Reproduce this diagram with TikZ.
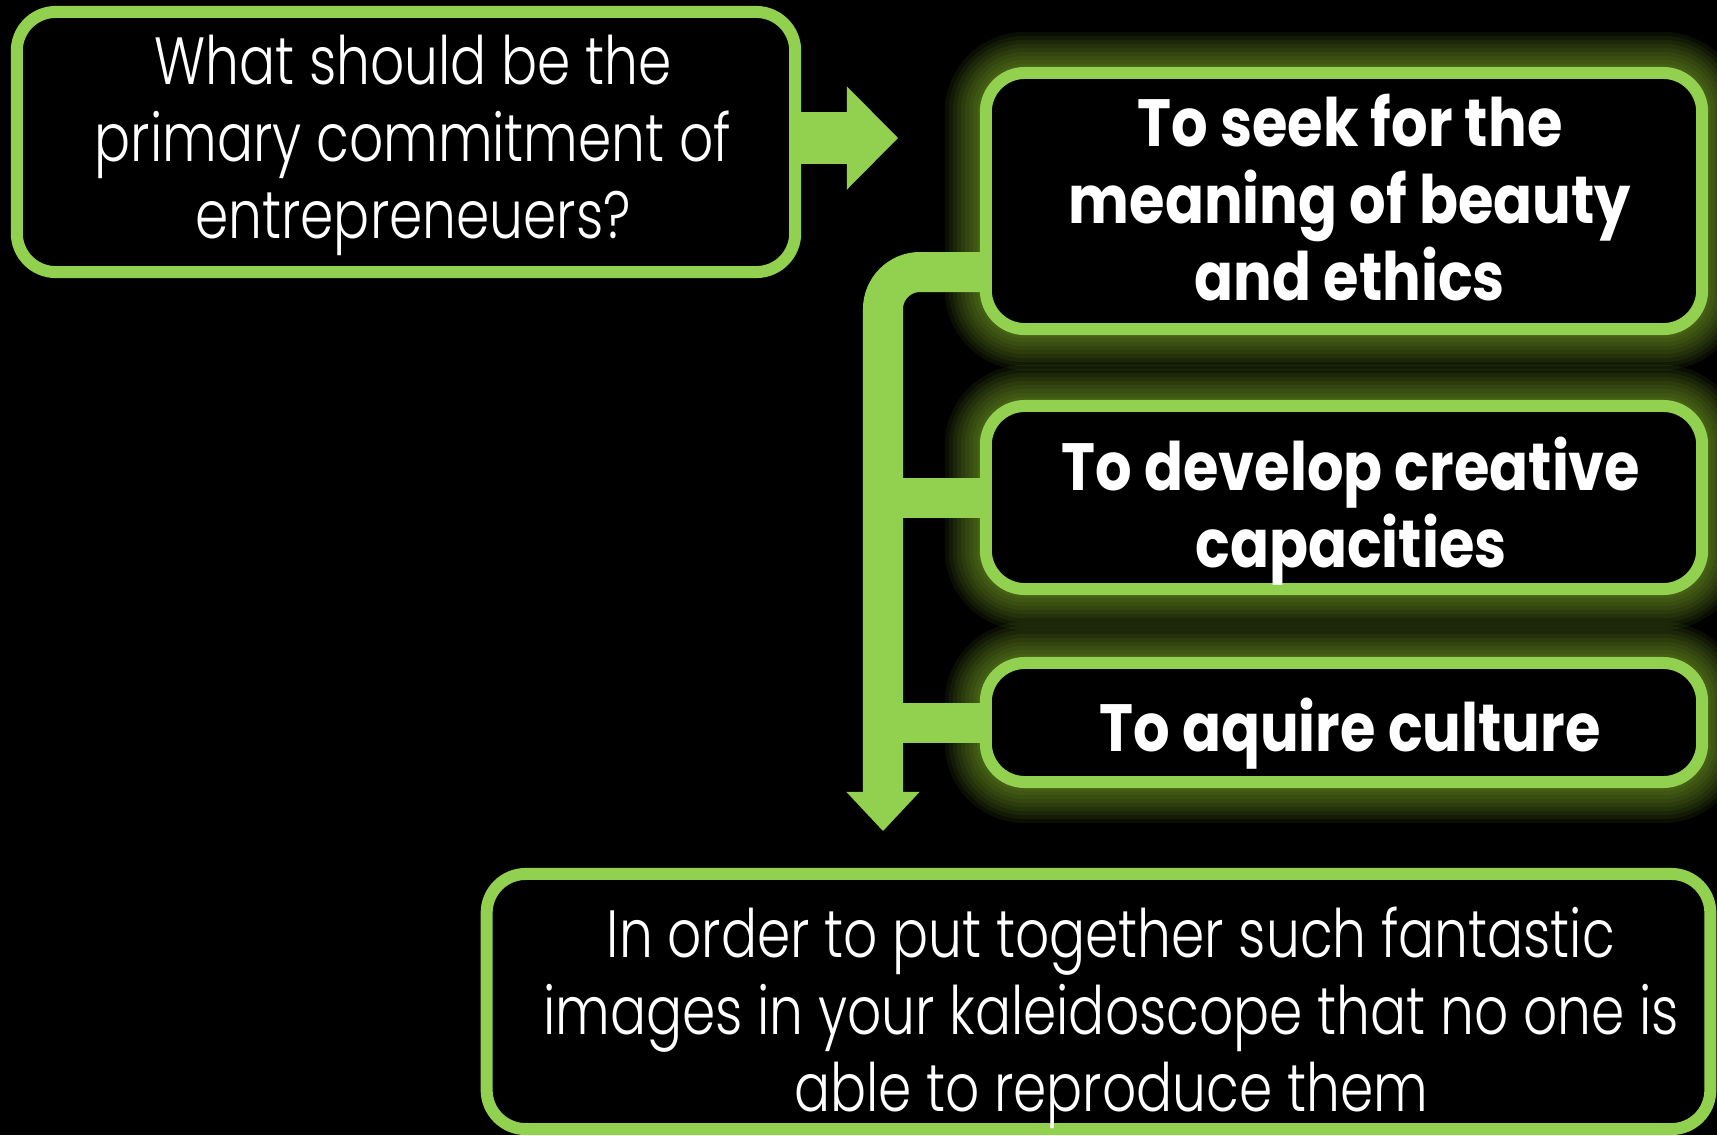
\documentclass[tikz,border=0pt]{standalone}
\usepackage{fontspec}
\usetikzlibrary{arrows.meta}
\newfontfamily\lightface{Poppins Light}[FakeStretch=0.8]
\newfontfamily\heavyface{Poppins}[FakeStretch=0.86]
\definecolor{leaf}{RGB}{146,208,80}
\definecolor{halo}{RGB}{150,205,50}
\pgfdeclarelayer{bg}
\pgfdeclarelayer{glow}
\pgfsetlayers{bg,glow,main}
\tikzset{
  panel/.style={rectangle, draw=leaf, line width=0.12cm, fill=black,
    rounded corners=0.39cm, inner sep=0pt, outer sep=0pt},
  plain/.style={text=white, align=center, inner sep=0pt,
    font=\lightface\fontsize{19}{21.9}\selectfont},
  strong/.style={text=white, align=center, inner sep=0pt,
    font=\heavyface\bfseries\fontsize{19}{21.9}\selectfont},
  link/.style={draw=leaf, line width=0.40cm, line cap=butt, line join=miter},
}
\begin{document}
\begin{tikzpicture}[x=0.01cm, y=-0.01cm]
\useasboundingbox (0,0) rectangle (1717,1135);
\begin{pgfonlayer}{bg}
  \fill[black] (0,0) rectangle (1717,1135);
\end{pgfonlayer}

% boxes
\node[panel, minimum width=7.78cm, minimum height=2.60cm] (q) at (406,142) {};
\node[panel, minimum width=7.16cm, minimum height=2.56cm] (b1) at (1344,201) {};
\node[panel, minimum width=7.16cm, minimum height=1.83cm] (b2) at (1344,497.5) {};
\node[panel, minimum width=7.16cm, minimum height=1.19cm] (b3) at (1344,722.5) {};
\node[panel, minimum width=12.23cm, minimum height=2.55cm] (res) at (1098.5,1001.5) {};

% texts
\node[plain] (qt) at (413,145) {What should be the\\primary commitment of\\entrepreneuers?};
\node[strong] (b1t) at (1350,197.5) {To seek for the\\meaning of beauty\\and ethics};
\node[strong] (b2t) at (1351,511) {To develop creative\\capacities};
\node[strong] (b3t) at (1350,733.5) {To aquire culture};
\node[plain] (rest) at (1111,1018) {In order to put together such fantastic\\images in your kaleidoscope that no one is\\able to reproduce them};

% soft halo round the three answers
\begin{pgfonlayer}{glow}
  \foreach \b in {b1,b2,b3}{
    \foreach \w in {0.82,0.74,0.66,0.58,0.50,0.42,0.34,0.26,0.18}{
      \draw[halo, opacity=0.07, line width=\w cm, rounded corners=0.39cm]
        (\b.south west) rectangle (\b.north east);
    }
  }
\end{pgfonlayer}

% arrow from the question to the answers
\coordinate (tipR) at (898,138);
\draw[draw=leaf, line width=0.52cm,
  -{Triangle[width=1.03cm, length=0.51cm, line width=0pt]}]
  (q.east |- tipR) -- (tipR);

% trunk joining the answers and leading down to the result
\coordinate (trunktop) at (883,272);
\coordinate (tipD) at (883,831);
\draw[link, rounded corners=0.37cm,
  -{Triangle[width=0.73cm, length=0.39cm, line width=0pt]}]
  (b1.west |- trunktop) -- (trunktop) -- (tipD);
\draw[link] (b2.west) -- (b2.west -| trunktop);
\draw[link] (b3.west) -- (b3.west -| trunktop);
\end{tikzpicture}
\end{document}
